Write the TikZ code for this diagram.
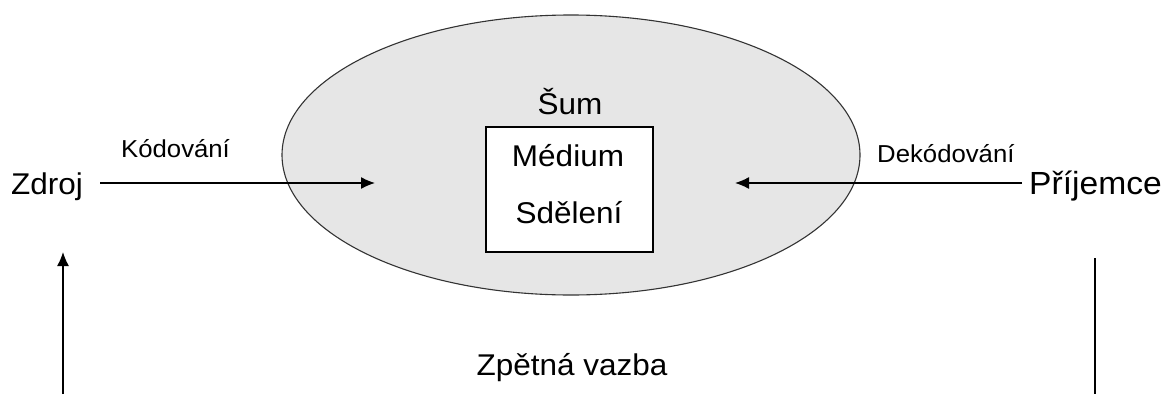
\documentclass[tikz,border=0pt]{standalone}
\usepackage{fontspec}
\setmainfont{Liberation Sans}[FakeStretch=1.05]
\usetikzlibrary{arrows.meta,shapes.geometric}
\definecolor{noisefill}{HTML}{E6E6E6}
\definecolor{edge}{HTML}{333333}
\tikzset{
  lbl/.style={inner sep=0pt, anchor=base},
  big/.style={font=\fontsize{30}{34}\selectfont},
  small/.style={font=\fontsize{24.5}{28}\selectfont},
  conn/.style={line width=1.3pt, -{Latex[length=14pt,width=12pt]}},
  plain/.style={line width=1.3pt}
}
\begin{document}
\begin{tikzpicture}[x=1pt,y=-1pt]
\useasboundingbox (0,0) rectangle (1172,394);
% noise ellipse
\node[ellipse, draw=edge, fill=noisefill, line width=1.1pt, minimum width=578pt, minimum height=280pt, inner sep=0pt] (sum) at (571,155) {};
\node[lbl, big] (sumtxt) at (570,114) {Šum};
% medium box
\node[draw=black, fill=white, line width=1.2pt, minimum width=167pt, minimum height=125pt, inner sep=0pt] (box) at (569.5,189.5) {};
\node[lbl, big] (medium) at (568,166) {Médium};
\node[lbl, big] (sdeleni) at (569,223) {Sdělení};
% source & receiver
\node[lbl, big, anchor=base west] (zdroj) at (11,194) {Zdroj};
\node[lbl, font=\fontsize{32}{36}\selectfont, anchor=base west] (prijemce) at (1029,194) {Příjemce};
% encode / decode labels
\node[lbl, small, anchor=base west] (kod) at (121,157) {Kódování};
\node[lbl, small, anchor=base west] (dekod) at (877,162) {Dekódování};
% arrows
\coordinate (encstart) at (100,183);
\coordinate (encend) at (375,183);
\coordinate (decstart) at (1022,183);
\coordinate (decend) at (735,183);
\draw[conn] (encstart) -- (encend);
\draw[conn] (decstart) -- (decend);
% feedback
\node[lbl, big] (fb) at (572,375) {Zpětná vazba};
\coordinate (fbleftbot) at (63,394);
\coordinate (fblefttop) at (63,252);
\coordinate (fbrighttop) at (1095,258);
\coordinate (fbrightbot) at (1095,394);
\draw[conn] (fbleftbot) -- (fblefttop);
\draw[plain] (fbrighttop) -- (fbrightbot);
\end{tikzpicture}
\end{document}
